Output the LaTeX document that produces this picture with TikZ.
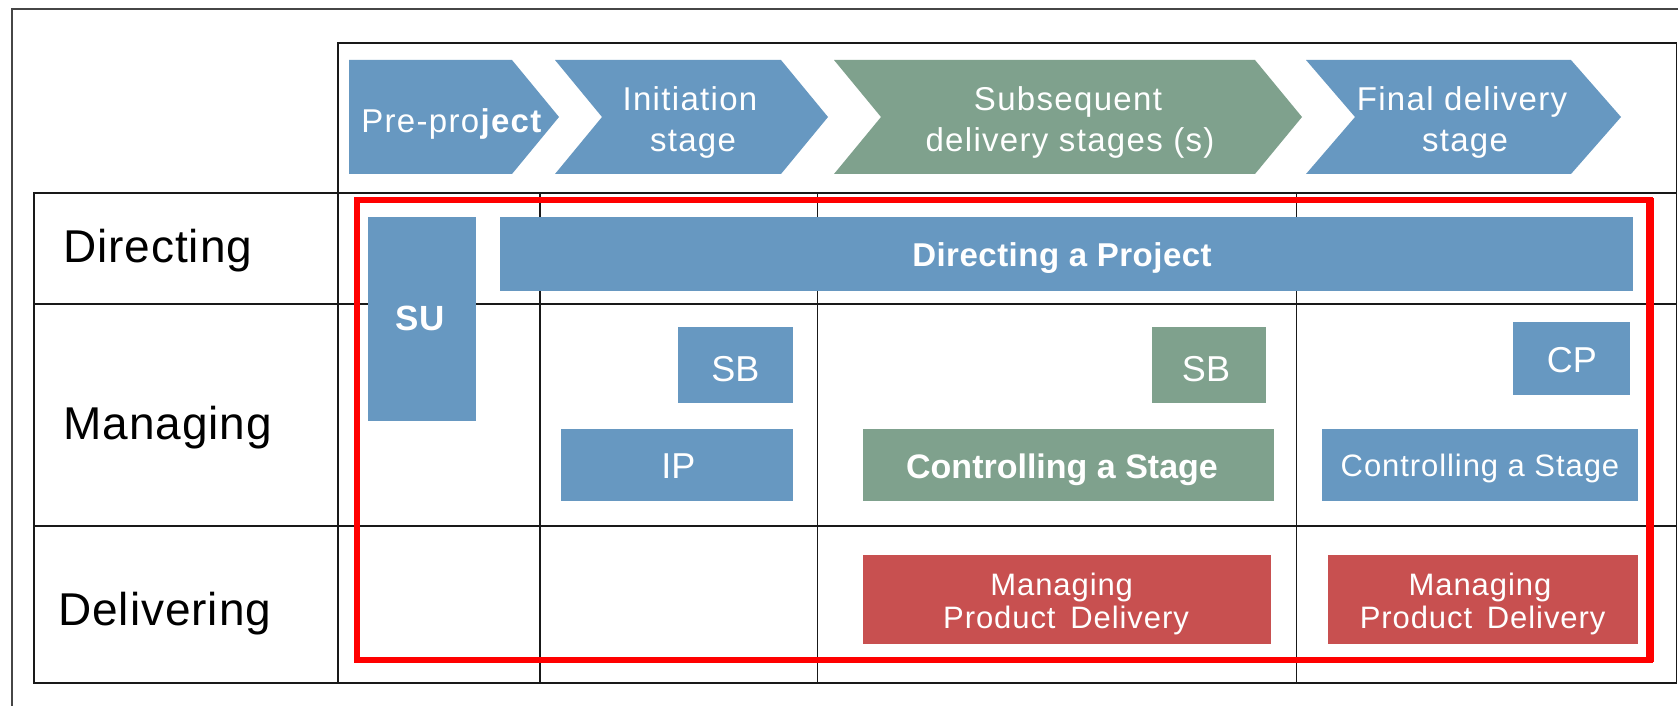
\documentclass[tikz,border=0pt]{standalone}
\usepackage{fontspec}
\setmainfont{Liberation Sans}
\newfontfamily\chevfont[LetterSpace=4]{Liberation Sans}
\newfontfamily\spfont[LetterSpace=3]{Liberation Sans}
\newfontfamily\rowfont[LetterSpace=2]{Liberation Sans}
\newfontfamily\dapfont[LetterSpace=1.5]{Liberation Sans}
\definecolor{pblue}{RGB}{103,152,193}
\definecolor{pgreen}{RGB}{127,161,141}
\definecolor{pred}{RGB}{200,80,80}
\definecolor{gridc}{RGB}{25,25,25}
\definecolor{framec}{RGB}{70,70,70}
\begin{document}
\begin{tikzpicture}[x=0.5pt,y=-0.5pt,
  sz/.style 2 args={minimum width={#1*0.5pt}, minimum height={#2*0.5pt}},
  box/.style={inner sep=0pt, outer sep=0pt, draw=none},
  bluebox/.style={box, fill=pblue},
  greenbox/.style={box, fill=pgreen},
  redbox/.style={box, fill=pred},
  lbl/.style={anchor=base, text=white, inner sep=0pt},
  rowlbl/.style={anchor=base west, inner sep=0pt, font=\rowfont\fontsize{23}{27}\selectfont},
  chevtxt/.style={anchor=base, text=white, inner sep=0pt, font=\chevfont\fontsize{16.5}{20}\selectfont},
  gridline/.style={draw=gridc, line width=0.9pt},
  frameline/.style={draw=framec, line width=1pt}]
\useasboundingbox (0,0) rectangle (1678,706);
\fill[white] (0,0) rectangle (1678,706);

% outer frame
\draw[frameline] (1678,9) -- (11.8,9) -- (11.8,706);
% header box
\draw[gridline] (338,42.7) rectangle (1676.5,193.3);
% table
\draw[gridline] (33.75,193.3) rectangle (1676.5,683);
\draw[gridline] (33.75,304) -- (1676.5,304);
\draw[gridline] (33.75,525.7) -- (1676.5,525.7);
\foreach \cx in {338,540,817.5,1296.5} {\draw[gridline] (\cx,193.3) -- (\cx,683);}

% chevrons
\fill[pblue] (349,60) -- (512,60) -- (559,117) -- (512,174) -- (349,174) -- cycle;
\fill[pblue] (555,60) -- (781,60) -- (828,117) -- (781,174) -- (555,174) -- (602,117) -- cycle;
\fill[pgreen] (834,60) -- (1255,60) -- (1302,117) -- (1255,174) -- (834,174) -- (881,117) -- cycle;
\fill[pblue] (1306,60) -- (1571,60) -- (1621,117) -- (1571,174) -- (1306,174) -- (1355,117) -- cycle;

\node[chevtxt] (pre) at (452,133) {Pre-pro\textbf{ject}};
\node[chevtxt] (ini1) at (690,111) {Initiation};
\node[chevtxt] (ini2) at (693,151.7) {stage};
\node[chevtxt] (sub1) at (1068,111) {Subsequent};
\node[chevtxt] (sub2) at (1070,152) {delivery stages (s)};
\node[chevtxt] (fin1) at (1462,111) {Final delivery};
\node[chevtxt] (fin2) at (1465,152) {stage};

% row labels
\node[rowlbl] (rdir) at (63,263) {Directing};
\node[rowlbl] (rman) at (63,439) {Managing};
\node[rowlbl] (rdel) at (58,625.7) {Delivering};

% boxes
\node[bluebox, sz={108.5}{204.3}] (su) at (421.75,318.85) {};
\node[bluebox, sz={1133.5}{74}] (dap) at (1066.25,254) {};
\node[bluebox, sz={115.9}{75.4}] (sb1) at (735.45,365) {};
\node[bluebox, sz={232.4}{72}] (ip) at (677.2,465.3) {};
\node[greenbox, sz={114.5}{75.4}] (sb2) at (1208.75,365) {};
\node[greenbox, sz={411.5}{72}] (cas1) at (1068.25,465.3) {};
\node[bluebox, sz={117}{73.3}] (cp) at (1571,358.35) {};
\node[bluebox, sz={316}{72}] (cas2) at (1480,465.3) {};
\node[redbox, sz={408.2}{88.7}] (mpd1) at (1066.6,599.65) {};
\node[redbox, sz={310}{88.7}] (mpd2) at (1482.5,599.65) {};

% box labels
\node[lbl, font=\bfseries\fontsize{17.5}{20}\selectfont] (sut) at (420,330) {SU};
\node[lbl, font=\dapfont\bfseries\fontsize{16.5}{20}\selectfont] (dapt) at (1062,266.7) {Directing a Project};
\node[lbl, font=\fontsize{18}{20}\selectfont] (sb1t) at (735.4,381) {SB};
\node[lbl, font=\fontsize{18}{20}\selectfont] (ipt) at (678.4,478.3) {IP};
\node[lbl, font=\fontsize{18}{20}\selectfont] (sb2t) at (1206,381) {SB};
\node[lbl, font=\fontsize{18}{20}\selectfont] (cpt) at (1571.8,372.3) {CP};
\node[lbl, font=\bfseries\fontsize{17}{20}\selectfont] (cas1t) at (1062,478.3) {Controlling a Stage};
\node[lbl, font=\spfont\fontsize{15.5}{20}\selectfont] (cas2t) at (1480,476.7) {Controlling a Stage};
\node[lbl, font=\spfont\fontsize{15.5}{20}\selectfont] (m1a) at (1061.7,595) {Managing};
\node[lbl, font=\spfont\fontsize{15.5}{20}\selectfont] (m1b) at (1066,628.3) {Product\, Delivery};
\node[lbl, font=\spfont\fontsize{15.5}{20}\selectfont] (m2a) at (1480,595) {Managing};
\node[lbl, font=\spfont\fontsize{15.5}{20}\selectfont] (m2b) at (1482.6,628.3) {Product\, Delivery};

% red highlight frame
\draw[red, line width=3pt] (357,200.5) rectangle (1650,660);
\draw[red, line width=4pt] (1650,198.5) -- (1650,662);
\end{tikzpicture}
\end{document}
